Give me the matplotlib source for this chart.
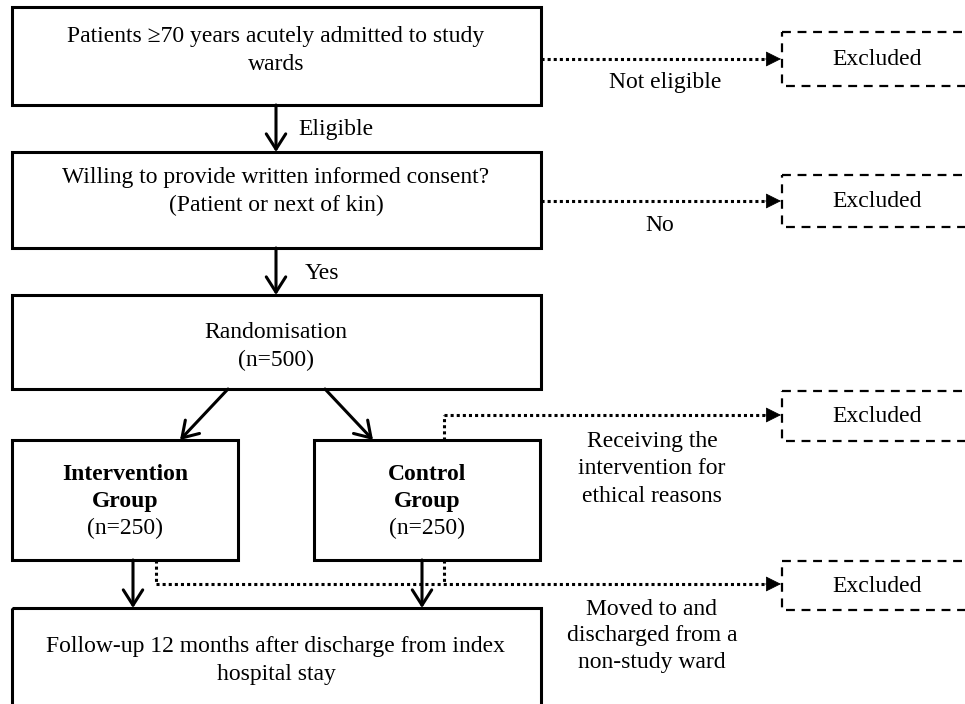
import matplotlib.pyplot as plt
from matplotlib.patches import Rectangle

plt.rcParams['font.family'] = ['Liberation Serif', 'DejaVu Serif']

# testo dei riquadri principali
main_steps = [
    "Patients \u226570 years acutely admitted to study\nwards",
    "Willing to provide written informed consent?\n(Patient or next of kin)",
    "Randomisation\n(n=500)",
]
flow_labels = ["Eligible", "Yes"]
group_names = ["Intervention\nGroup", "Control\nGroup"]
group_sizes = [250, 250]
followup_text = "Follow-up 12 months after discharge from index\nhospital stay"
excluded_text = "Excluded"
exclusion_reasons = [
    "Not eligible",
    "No",
    "Receiving the\nintervention for\nethical reasons",
    "Moved to and\ndischarged from a\nnon-study ward",
]

FS = 17
LW = 2.2
GAP = 27.5

fig = plt.figure(figsize=(9.65, 7.04), dpi=100)
ax = fig.add_axes([0, 0, 1, 1])
ax.set_xlim(0, 965)
ax.set_ylim(704, 0)
ax.axis('off')


def box(x0, y0, x1, y1, ls='-', lw=LW):
    ax.add_patch(Rectangle((x0, y0), x1 - x0, y1 - y0, fill=False,
                           edgecolor='black', linewidth=lw, linestyle=ls))


def label(x, y, txt, ha='center', **kw):
    ax.text(x, y, txt, ha=ha, va='baseline', fontsize=FS, **kw)


def multiline(x, y_first, txt, gap=GAP, **kw):
    for i, line in enumerate(txt.split('\n')):
        label(x, y_first + i * gap, line, **kw)


def arrow_open(x0, y0, x1, y1):
    ax.annotate('', xy=(x1, y1), xytext=(x0, y0),
                arrowprops=dict(arrowstyle='->,head_length=1.1,head_width=0.7',
                                lw=LW, color='black', shrinkA=0, shrinkB=0))


def dotted(xs, ys):
    ax.plot(xs, ys, color='black', lw=LW, linestyle=(0, (1, 1)), solid_capstyle='butt')


def arrow_filled(x0, y, x1):
    dotted([x0, x1 - 12], [y, y])
    ax.annotate('', xy=(x1, y), xytext=(x1 - 16, y),
                arrowprops=dict(arrowstyle='-|>,head_length=1.0,head_width=0.5',
                                lw=0.5, color='black', shrinkA=0, shrinkB=0))


# riquadri principali
main_box_y = [(7, 105), (152, 248), (295, 389)]
main_text_y = [42, 183, 338]
for (y0, y1), ty, txt in zip(main_box_y, main_text_y, main_steps):
    box(12, y0, 541, y1)
    multiline(276, ty, txt, gap=28)

# frecce verticali
arrow_open(276, 105, 276, 152)
label(298, 135, flow_labels[0], ha='left')
arrow_open(276, 248, 276, 295)
label(305, 279, flow_labels[1], ha='left')

# gruppi
groups_x = [(12, 238), (314, 540)]
for (x0, x1), name, n in zip(groups_x, group_names, group_sizes):
    box(x0, 440, x1, 560)
    cx = (x0 + x1) / 2
    multiline(cx, 480, name, gap=27, fontweight='bold')
    label(cx, 534, f"(n={n})")

arrow_open(228, 389, 180, 440)
arrow_open(325, 389, 373, 440)

# follow-up
box(12, 608, 541, 720)
multiline(276, 652, followup_text, gap=28)
arrow_open(133, 560, 133, 608)
arrow_open(422, 560, 422, 608)

# riquadri esclusi
excl_y = [(32, 86), (175, 227), (391, 441), (561, 610)]
arrow_y = [59, 201, 415, 584]
for (y0, y1) in excl_y:
    box(782, y0, 990, y1, ls=(0, (4, 3)), lw=1.6)
    label(877, (y0 + y1) / 2 + 6, excluded_text)

arrow_filled(541, arrow_y[0], 781)
arrow_filled(541, arrow_y[1], 781)
dotted([444, 444], [440, arrow_y[2]])
arrow_filled(444, arrow_y[2], 781)
dotted([156, 156], [560, arrow_y[3]])
dotted([444, 444], [560, arrow_y[3]])
arrow_filled(156, arrow_y[3], 781)

label(665, 88, exclusion_reasons[0])
label(660, 231, exclusion_reasons[1])
multiline(652, 447, exclusion_reasons[2], gap=27.5)
multiline(652, 615, exclusion_reasons[3], gap=26.5)

fig.savefig('out.png', dpi=100)
